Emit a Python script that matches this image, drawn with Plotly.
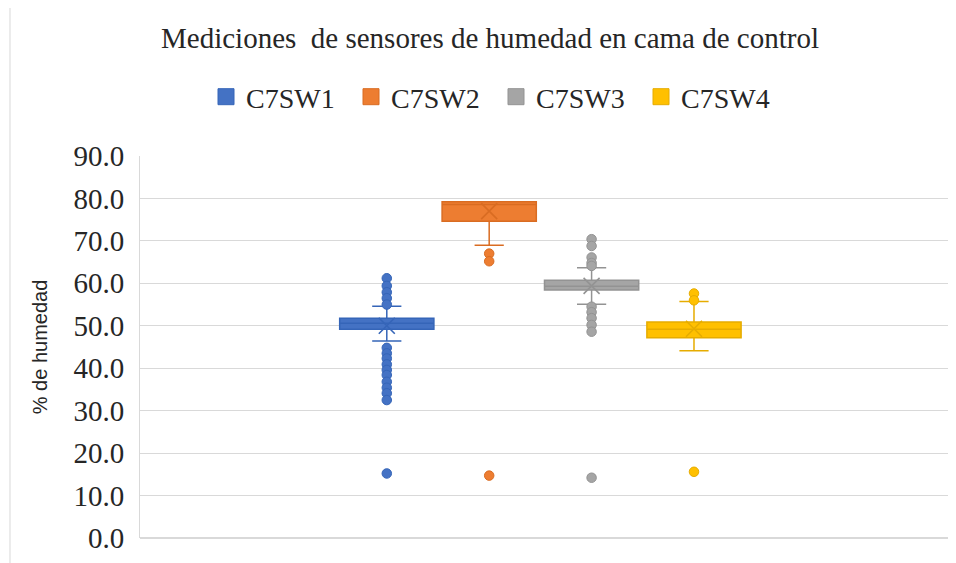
import plotly.graph_objects as go

series = ["C7SW1", "C7SW2", "C7SW3", "C7SW4"]
positions = [1, 2, 3, 4]
q1 = [49.2, 74.6, 58.4, 47.2]
median = [50.6, 78.6, 59.3, 49.2]
q3 = [51.8, 79.2, 60.7, 50.9]
lowerfence = [46.4, 69.0, 55.1, 44.1]
upperfence = [54.6, 79.2, 63.7, 55.7]
means = [50.0, 77.0, 59.4, 49.3]
outliers = [
    [61.2, 59.4, 57.9, 56.5, 55.0, 44.8, 43.5, 42.3, 40.9, 39.6, 38.4, 36.8, 35.4, 34.1, 32.5, 15.2],
    [67.0, 65.2, 14.7],
    [70.4, 68.8, 66.1, 64.8, 64.1, 54.5, 53.2, 51.8, 50.2, 48.6, 14.2],
    [57.6, 56.0, 15.6],
]
y_ticks = [0, 10, 20, 30, 40, 50, 60, 70, 80, 90]
y_tick_labels = ["0.0", "10.0", "20.0", "30.0", "40.0", "50.0", "60.0", "70.0", "80.0", "90.0"]

colors = ["#4472C4", "#ED7D31", "#A5A5A5", "#FFC000"]
dark = ["#3565B8", "#D96C22", "#939393", "#E6AC00"]

SERIF = "Liberation Serif"
W, H = 948, 555

fig = go.Figure()
for i, name in enumerate(series):
    fig.add_trace(go.Box(
        x=[positions[i]], q1=[q1[i]], median=[median[i]], q3=[q3[i]],
        lowerfence=[lowerfence[i]], upperfence=[upperfence[i]],
        name=name, showlegend=False, width=0.92, whiskerwidth=0.31,
        fillcolor=colors[i], line=dict(color=dark[i], width=1.5),
        boxpoints=False, hoverinfo="skip",
    ))
    fig.add_trace(go.Scatter(
        x=[positions[i]] * len(outliers[i]), y=outliers[i], mode="markers",
        marker=dict(size=9.5, color=colors[i], line=dict(color=dark[i], width=1)),
        showlegend=False, hoverinfo="skip",
    ))
    fig.add_trace(go.Scatter(
        x=[positions[i]], y=[means[i]], mode="markers",
        marker=dict(symbol="x-thin", size=16, color=dark[i],
                    line=dict(color=dark[i], width=1.6)),
        showlegend=False, hoverinfo="skip",
    ))
for i, name in enumerate(series):
    fig.add_trace(go.Scatter(
        x=[None], y=[None], mode="markers", name=name,
        marker=dict(symbol="square", size=16, color=colors[i],
                    line=dict(color=dark[i], width=1)),
    ))

fig.update_layout(
    width=W, height=H,
    paper_bgcolor="white", plot_bgcolor="white",
    margin=dict(l=132, r=6, t=148, b=25, autoexpand=False),
    title=dict(text="Mediciones  de sensores de humedad en cama de control",
               x=482 / W, xanchor="center", y=1 - 29.5 / H, yanchor="middle",
               font=dict(family=SERIF, size=29, color="#262626")),
    legend=dict(orientation="h", xref="container", yref="container",
                x=198 / W, xanchor="left", y=1 - 89 / H, yanchor="middle",
                entrywidth=100, entrywidthmode="pixels",
                font=dict(family=SERIF, size=28, color="#262626"),
                itemsizing="trace", traceorder="normal"),
    xaxis=dict(range=[-1.41, 6.5], showgrid=False, zeroline=False,
               showticklabels=False, showline=False, ticks="", automargin=False),
    yaxis=dict(range=[0, 90], tickvals=y_ticks, ticktext=y_tick_labels,
               showgrid=True, gridcolor="#D9D9D9", gridwidth=1,
               zeroline=True, zerolinecolor="#D9D9D9",
               showline=True, linecolor="#D9D9D9", linewidth=1,
               ticks="", ticklabelstandoff=9, automargin=False,
               tickfont=dict(family=SERIF, size=29, color="#262626"),
               title=dict(text="% de humedad", standoff=20,
                          font=dict(family="Liberation Sans", size=20, color="#262626"))),
    shapes=[dict(type="line", xref="paper", yref="paper",
                 x0=-0.1605, x1=-0.1605, y0=-0.07, y1=1.42,
                 line=dict(color="#D9D9D9", width=1))],
)

fig.write_html("out.html")
